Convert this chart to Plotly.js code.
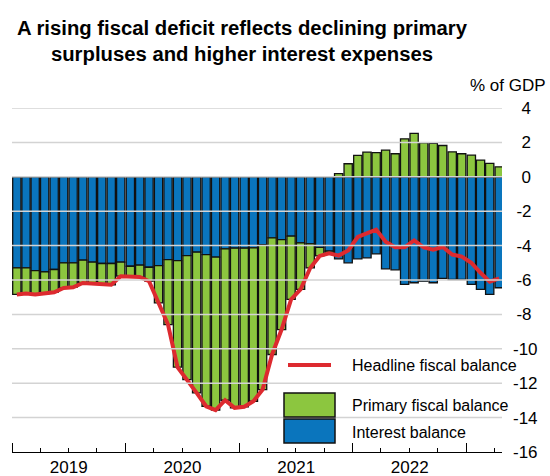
<!DOCTYPE html>
<html>
<head>
<meta charset="utf-8">
<script src="https://cdn.plot.ly/plotly-3.0.1.min.js"></script>
<style>
  html, body { margin: 0; padding: 0; background: #fff; }
  #chart { width: 550px; height: 476px; }
</style>
</head>
<body>
<div id="chart"></div>
<script>
// ---- Data (monthly, Jan 2019 – Apr 2023), % of GDP ----
const months = [
  '2019-01','2019-02','2019-03','2019-04','2019-05','2019-06','2019-07','2019-08','2019-09','2019-10','2019-11','2019-12',
  '2020-01','2020-02','2020-03','2020-04','2020-05','2020-06','2020-07','2020-08','2020-09','2020-10','2020-11','2020-12',
  '2021-01','2021-02','2021-03','2021-04','2021-05','2021-06','2021-07','2021-08','2021-09','2021-10','2021-11','2021-12',
  '2022-01','2022-02','2022-03','2022-04','2022-05','2022-06','2022-07','2022-08','2022-09','2022-10','2022-11','2022-12',
  '2023-01','2023-02','2023-03','2023-04'
];
const interestBalance = [
  -5.29,-5.29,-5.45,-5.53,-5.39,-5.00,-5.00,-4.85,-4.96,-5.04,-5.04,-4.96,
  -5.20,-5.14,-5.26,-5.16,-4.81,-4.87,-4.58,-4.38,-4.52,-4.67,-4.19,-4.15,
  -4.15,-4.13,-3.94,-3.55,-3.65,-3.45,-3.84,-3.90,-4.10,-4.32,-4.77,-5.00,
  -4.77,-4.71,-4.48,-5.35,-5.41,-6.26,-6.16,-6.07,-6.16,-5.91,-5.97,-5.97,
  -6.26,-6.55,-6.84,-6.45
];
const primaryBalance = [
  -1.55,-1.50,-1.39,-1.27,-1.32,-1.46,-1.42,-1.32,-1.24,-1.20,-1.24,-0.82,
  -0.58,-0.68,-0.81,-2.17,-3.78,-6.20,-7.21,-8.18,-8.82,-8.90,-8.80,-9.28,
  -9.22,-8.92,-8.43,-6.78,-5.23,-3.68,-2.71,-1.40,-0.50,-0.13,0.19,0.76,
  1.24,1.43,1.40,1.55,1.34,2.21,2.52,1.98,1.94,1.82,1.45,1.34,
  1.26,0.97,0.78,0.58
];
const headlineBalance = [
  -6.84,-6.79,-6.84,-6.80,-6.71,-6.46,-6.42,-6.17,-6.20,-6.24,-6.28,-5.78,
  -5.78,-5.82,-6.07,-7.33,-8.59,-11.07,-11.79,-12.56,-13.34,-13.57,-12.99,-13.43,
  -13.37,-13.05,-12.37,-10.33,-8.88,-7.13,-6.55,-5.30,-4.60,-4.45,-4.58,-4.28,
  -3.50,-3.30,-3.07,-3.78,-4.10,-4.10,-3.70,-4.10,-4.24,-4.08,-4.52,-4.64,
  -5.00,-5.58,-6.10,-5.90
];
const yTickVals = [-16,-14,-12,-10,-8,-6,-4,-2,0,2,4];
const gridVals = [-14,-12,-10,-8,-6,-4,-2,0,2,4];
const seriesNames = ['Headline fiscal balance','Primary fiscal balance','Interest balance'];
const titleText = '<b>A rising fiscal deficit reflects declining primary<br>surpluses and higher interest expenses</b>';
const unitText = '% of GDP';

// ---- Styling ----
const BLUE = '#0a75bd';
const GREEN = '#8cc63f';
const RED = '#dd2a2f';
const FONT = '"Liberation Sans", Arial, sans-serif';

const W = 550, H = 476;
const M = {l: 12, r: 48, t: 108, b: 24};
const PW = W - M.l - M.r, PH = H - M.t - M.b;
const px = x => (x - M.l) / PW;        // pixel x -> paper x
const py = y => (H - M.b - y) / PH;    // pixel y -> paper y

function yLabel(v) {
  if (v >= 0) return '\u2002' + v;
  if (v > -10) return '\u2009' + v;
  return String(v);
}

const barCommon = {
  type: 'bar', x: months, xperiod: 'M1', xperiodalignment: 'middle',
  showlegend: false
};

const traces = [
  Object.assign({}, barCommon, {
    name: seriesNames[2], y: interestBalance,
    marker: {color: BLUE, line: {color: '#111', width: 1.3}}
  }),
  Object.assign({}, barCommon, {
    name: seriesNames[1], y: primaryBalance,
    marker: {color: GREEN, line: {color: '#111', width: 1.3}}
  }),
  {
    type: 'scatter', mode: 'lines', name: seriesNames[0],
    x: months, y: headlineBalance, xperiod: 'M1', xperiodalignment: 'middle',
    line: {color: RED, width: 4, shape: 'linear'}, showlegend: false
  }
];

const shapes = gridVals.map(v => ({
  type: 'line', xref: 'paper', x0: 0, x1: 1, yref: 'y', y0: v, y1: v,
  line: {color: '#d3d3d3', width: 1.5}, layer: 'above'
}));

// manual legend swatches
shapes.push({type: 'line', xref: 'paper', yref: 'paper',
  x0: px(288), x1: px(331), y0: py(365), y1: py(365),
  line: {color: RED, width: 4}, layer: 'above'});
shapes.push({type: 'rect', xref: 'paper', yref: 'paper',
  x0: px(284), x1: px(335), y0: py(417), y1: py(393),
  fillcolor: GREEN, line: {color: '#111', width: 1.5}, layer: 'above'});
shapes.push({type: 'rect', xref: 'paper', yref: 'paper',
  x0: px(284), x1: px(335), y0: py(443), y1: py(419),
  fillcolor: BLUE, line: {color: '#111', width: 1.5}, layer: 'above'});

const legendY = [365, 405, 432];
const annotations = seriesNames.map((n, i) => ({
  text: n, xref: 'paper', yref: 'paper', x: px(350), y: py(legendY[i]),
  xanchor: 'left', yanchor: 'middle', showarrow: false,
  font: {family: FONT, size: 16, color: '#000'}
}));
annotations.push({
  text: unitText, xref: 'paper', yref: 'paper', x: px(548), y: py(85),
  xanchor: 'right', yanchor: 'middle', showarrow: false,
  font: {family: FONT, size: 17, color: '#000'}
});

const layout = {
  width: W, height: H,
  margin: M,
  paper_bgcolor: '#fff', plot_bgcolor: '#fff',
  font: {family: FONT, size: 17, color: '#000'},
  title: {
    text: titleText, xref: 'container', yref: 'container',
    x: 242 / W, xanchor: 'center', y: 1 - 35 / H, yanchor: 'top',
    font: {family: FONT, size: 20.3, color: '#000'}
  },
  barmode: 'relative', bargap: 0.1,
  xaxis: {
    type: 'date', range: ['2019-01-01', '2023-04-25'],
    tick0: '2019-01-01', dtick: 'M12', tickformat: '%Y', ticklabelmode: 'period',
    ticks: 'inside', ticklen: 9, tickwidth: 1, tickcolor: '#000',
    minor: {dtick: 'M3', tick0: '2019-01-01', ticks: 'inside', ticklen: 4, tickwidth: 1, tickcolor: '#000', showgrid: false},
    showline: true, linecolor: '#000', linewidth: 1,
    showgrid: false, zeroline: false,
    tickfont: {family: FONT, size: 17, color: '#000'}
  },
  yaxis: {
    range: [-16, 4], side: 'right', tickmode: 'array',
    tickvals: yTickVals, ticktext: yTickVals.map(yLabel),
    ticks: '', showgrid: false, zeroline: false, showline: false,
    ticklabelstandoff: 10,
    tickfont: {family: FONT, size: 17, color: '#000'}
  },
  shapes: shapes,
  annotations: annotations
};

Plotly.newPlot('chart', traces, layout, {displayModeBar: false, staticPlot: true});
</script>
</body>
</html>
